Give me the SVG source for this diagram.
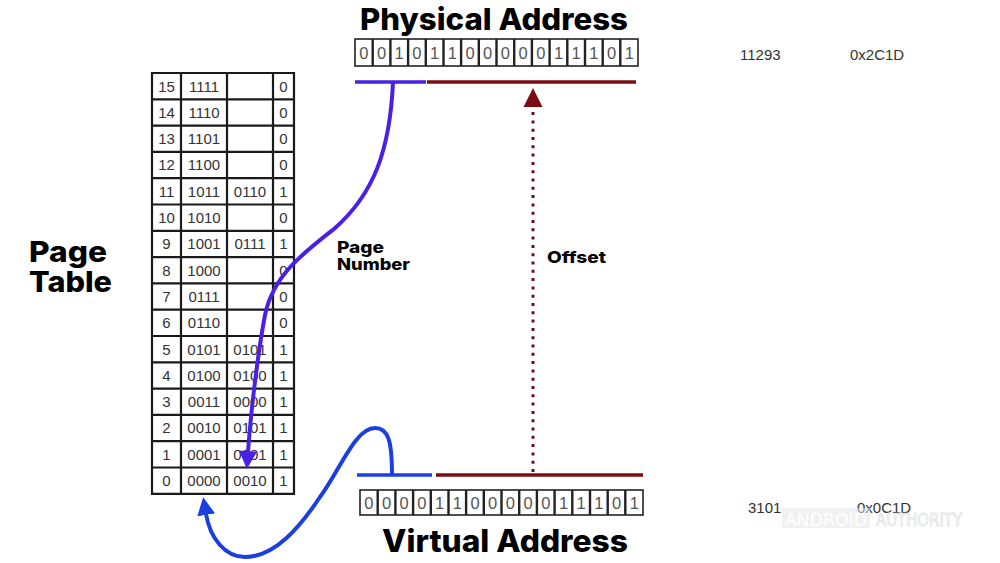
<svg xmlns="http://www.w3.org/2000/svg" width="1000" height="563" viewBox="0 0 1000 563">
<style>
.title{font-family:Inter,"Open Sans","Liberation Sans",sans-serif;font-weight:800;fill:#000}
.lbl{font-family:Inter,"Open Sans","Liberation Sans",sans-serif;font-weight:800;fill:#000;font-size:16px}
.cell{font-family:"Liberation Sans",Arial,sans-serif;font-size:15px;fill:#333;text-anchor:middle}
.bit{font-family:"Liberation Sans",Arial,sans-serif;font-size:16.5px;fill:#555;text-anchor:middle}
.num{font-family:"Liberation Sans",Arial,sans-serif;font-size:15px;fill:#333}
.grid{fill:none;stroke:#1a1a1a;stroke-width:2.2}
.bitbox{fill:#fff;stroke:#222;stroke-width:1.6}
</style>
<defs>
<marker id="ahPurple" viewBox="0 0 20 20" refX="1" refY="10" markerWidth="19" markerHeight="18" markerUnits="userSpaceOnUse" orient="auto"><path d="M0,0 L20,10 L0,20 z" fill="#4a1fe6"/></marker>
<marker id="ahBlue" viewBox="0 0 20 20" refX="1" refY="10" markerWidth="18" markerHeight="19" markerUnits="userSpaceOnUse" orient="auto"><path d="M0,0 L20,10 L0,20 z" fill="#1c3fe0"/></marker>
<marker id="ahRed" viewBox="0 0 20 20" refX="1" refY="10" markerWidth="19" markerHeight="20" markerUnits="userSpaceOnUse" orient="auto"><path d="M0,0 L20,10 L0,20 z" fill="#7a0d14"/></marker>
</defs>
<rect width="1000" height="563" fill="#fff"/>

<g id="physical-address">
<text class="title" x="360" y="30" font-size="30" textLength="268" lengthAdjust="spacingAndGlyphs">Physical Address</text>
<rect class="bitbox" x="355" y="39" width="283" height="27"/>
<path d="M372.7,39V66M390.4,39V66M408.1,39V66M425.8,39V66M443.5,39V66M461.1,39V66M478.8,39V66M496.5,39V66M514.2,39V66M531.9,39V66M549.6,39V66M567.3,39V66M585,39V66M602.7,39V66M620.3,39V66" stroke="#222" stroke-width="2.4"/>
<text class="bit" x="363.8 381.5 399.2 416.9 434.6 452.3 470 487.7 505.4 523.1 540.8 558.5 576.2 593.9 611.6 629.3" y="58.5">0010110000011101</text>
</g>

<g id="virtual-address">
<rect class="bitbox" x="360" y="490" width="283" height="25"/>
<path d="M377.7,490V515M395.4,490V515M413.1,490V515M430.8,490V515M448.5,490V515M466.1,490V515M483.8,490V515M501.5,490V515M519.2,490V515M536.9,490V515M554.6,490V515M572.3,490V515M590,490V515M607.7,490V515M625.3,490V515" stroke="#222" stroke-width="2.4"/>
<text class="bit" x="368.8 386.5 404.2 421.9 439.6 457.3 475 492.7 510.4 528.1 545.8 563.5 581.2 598.9 616.6 634.3" y="508.5">0000110000011101</text>
<text class="title" x="382" y="552" font-size="31" textLength="246" lengthAdjust="spacingAndGlyphs">Virtual Address</text>
</g>

<g id="page-table-label">
<text class="title" x="29" y="262" font-size="28.5" textLength="78" lengthAdjust="spacingAndGlyphs">Page</text>
<text class="title" x="29" y="292" font-size="28.5" textLength="83" lengthAdjust="spacingAndGlyphs">Table</text>
</g>

<g id="page-table">
<rect x="152" y="73" width="142" height="420.8" fill="#fff"/>
<path class="grid" d="M152,73H294V493.8H152Z M181,73V493.8 M227,73V493.8 M273,73V493.8 M152,99.3H294 M152,125.6H294 M152,151.9H294 M152,178.2H294 M152,204.5H294 M152,230.8H294 M152,257.1H294 M152,283.4H294 M152,309.7H294 M152,336H294 M152,362.3H294 M152,388.6H294 M152,414.9H294 M152,441.2H294 M152,467.5H294"/>
<g id="row15"><text class="cell" x="166.5" y="91.5">15</text><text class="cell" x="204" y="91.5">1111</text><text class="cell" x="283.5" y="91.5">0</text></g>
<g id="row14"><text class="cell" x="166.5" y="117.8">14</text><text class="cell" x="204" y="117.8">1110</text><text class="cell" x="283.5" y="117.8">0</text></g>
<g id="row13"><text class="cell" x="166.5" y="144.1">13</text><text class="cell" x="204" y="144.1">1101</text><text class="cell" x="283.5" y="144.1">0</text></g>
<g id="row12"><text class="cell" x="166.5" y="170.4">12</text><text class="cell" x="204" y="170.4">1100</text><text class="cell" x="283.5" y="170.4">0</text></g>
<g id="row11"><text class="cell" x="166.5" y="196.7">11</text><text class="cell" x="204" y="196.7">1011</text><text class="cell" x="250" y="196.7">0110</text><text class="cell" x="283.5" y="196.7">1</text></g>
<g id="row10"><text class="cell" x="166.5" y="223">10</text><text class="cell" x="204" y="223">1010</text><text class="cell" x="283.5" y="223">0</text></g>
<g id="row9"><text class="cell" x="166.5" y="249.3">9</text><text class="cell" x="204" y="249.3">1001</text><text class="cell" x="250" y="249.3">0111</text><text class="cell" x="283.5" y="249.3">1</text></g>
<g id="row8"><text class="cell" x="166.5" y="275.6">8</text><text class="cell" x="204" y="275.6">1000</text><text class="cell" x="283.5" y="275.6">0</text></g>
<g id="row7"><text class="cell" x="166.5" y="301.9">7</text><text class="cell" x="204" y="301.9">0111</text><text class="cell" x="283.5" y="301.9">0</text></g>
<g id="row6"><text class="cell" x="166.5" y="328.2">6</text><text class="cell" x="204" y="328.2">0110</text><text class="cell" x="283.5" y="328.2">0</text></g>
<g id="row5"><text class="cell" x="166.5" y="354.5">5</text><text class="cell" x="204" y="354.5">0101</text><text class="cell" x="250" y="354.5">0101</text><text class="cell" x="283.5" y="354.5">1</text></g>
<g id="row4"><text class="cell" x="166.5" y="380.8">4</text><text class="cell" x="204" y="380.8">0100</text><text class="cell" x="250" y="380.8">0100</text><text class="cell" x="283.5" y="380.8">1</text></g>
<g id="row3"><text class="cell" x="166.5" y="407.1">3</text><text class="cell" x="204" y="407.1">0011</text><text class="cell" x="250" y="407.1">0000</text><text class="cell" x="283.5" y="407.1">1</text></g>
<g id="row2"><text class="cell" x="166.5" y="433.4">2</text><text class="cell" x="204" y="433.4">0010</text><text class="cell" x="250" y="433.4">0101</text><text class="cell" x="283.5" y="433.4">1</text></g>
<g id="row1"><text class="cell" x="166.5" y="459.7">1</text><text class="cell" x="204" y="459.7">0001</text><text class="cell" x="250" y="459.7">0001</text><text class="cell" x="283.5" y="459.7">1</text></g>
<g id="row0"><text class="cell" x="166.5" y="486">0</text><text class="cell" x="204" y="486">0000</text><text class="cell" x="250" y="486">0010</text><text class="cell" x="283.5" y="486">1</text></g>
</g>

<g id="connectors" fill="none">
<path d="M355,82H426" stroke="#4a1fe6" stroke-width="3.5"/>
<path d="M427,82H636" stroke="#7a0d14" stroke-width="3.5"/>
<path d="M357,475H432" stroke="#1c3fe0" stroke-width="3.5"/>
<path d="M436,475H643" stroke="#7a0d14" stroke-width="3.5"/>
<path d="M393,82 C390,150 374,194 334,229 C302,254 273,276 265,315 C258,352 251,410 248,452" stroke="#4a1fe6" stroke-width="4" marker-end="url(#ahPurple)"/>
<path d="M392,475 C392,440 388,428 375,428 C355,428 340,470 320,497 C300,527 275,557 245,557 C225,557 210,538 206,514" stroke="#1c3fe0" stroke-width="4" marker-end="url(#ahBlue)"/>
<path d="M533,472 V106" stroke="#6e0f1f" stroke-width="3" stroke-dasharray="3 5.3" marker-end="url(#ahRed)"/>
</g>

<g id="labels">
<text class="lbl" x="337" y="253" textLength="47" lengthAdjust="spacingAndGlyphs">Page</text>
<text class="lbl" x="337" y="270" textLength="73" lengthAdjust="spacingAndGlyphs">Number</text>
<text class="lbl" x="547" y="263" textLength="59" lengthAdjust="spacingAndGlyphs">Offset</text>
</g>

<g id="values">
<text class="num" x="740" y="60">11293</text>
<text class="num" x="850" y="60">0x2C1D</text>
<text class="num" x="748" y="513">3101</text>
<text class="num" x="857" y="513">0x0C1D</text>
</g>

<g id="watermark" opacity="0.55">
<rect x="782" y="508" width="88" height="20" fill="#e6e6e6"/>
<text x="785" y="526" font-family="'DejaVu Sans',sans-serif" font-size="17" fill="#fff" textLength="82" lengthAdjust="spacingAndGlyphs">ANDROID</text>
<text x="876" y="526" font-family="'DejaVu Sans',sans-serif" font-size="17" fill="#fff" stroke="#d0d0d0" stroke-width="1" textLength="86" lengthAdjust="spacingAndGlyphs">AUTHORITY</text>
</g>
</svg>
